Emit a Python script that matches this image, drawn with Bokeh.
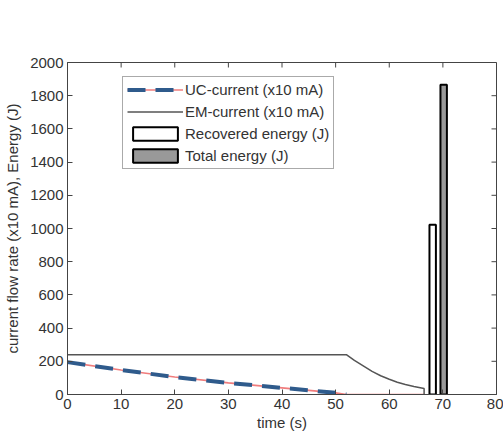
import math
from bokeh.plotting import figure
from bokeh.models import Legend, LegendItem, FixedTicker
from bokeh.embed import file_html
from bokeh.resources import INLINE

# ---- data ----
uc_time = [0, 10, 20, 30, 40, 50, 52, 66.5]
uc_current = [195, 148, 105, 70, 40, 10, 0, 0]
uc_dash_points = 7  # blue dashes stop where the UC current reaches zero

em_time = [0, 52, 53.5, 55.3, 56.8, 58.4, 60.0, 61.5, 63.0, 64.6, 66.5, 66.5]
em_current = [240, 240, 205, 169, 139, 113, 92, 74, 60, 48, 36, 0]

recovered_time = [68.1]
recovered_energy = [1022]
total_time = [70.15]
total_energy = [1866]

x_ticks = [0, 10, 20, 30, 40, 50, 60, 70, 80]
y_ticks = [0, 200, 400, 600, 800, 1000, 1200, 1400, 1600, 1800, 2000]
x_max = 80
y_max = 2000

FONT = "Liberation Sans"
AXIS_COLOR = "#444444"

p = figure(width=503, height=437, x_range=(0, x_max), y_range=(0, y_max),
           output_backend="svg", toolbar_location=None,
           min_border_left=67, min_border_right=7, min_border_top=62, min_border_bottom=43)
p.background_fill_color = "white"
p.border_fill_color = "white"
p.outline_line_color = AXIS_COLOR
p.outline_line_width = 1
p.xgrid.grid_line_color = None
p.ygrid.grid_line_color = None

p.xaxis.ticker = FixedTicker(ticks=x_ticks)
p.yaxis.ticker = FixedTicker(ticks=y_ticks)
for ax in (p.xaxis[0], p.yaxis[0]):
    ax.major_tick_in = 5
    ax.major_tick_out = 0
    ax.minor_tick_line_color = None
    ax.axis_line_color = AXIS_COLOR
    ax.major_tick_line_color = AXIS_COLOR
    ax.major_label_text_font = FONT
    ax.major_label_text_font_size = "15px"
    ax.major_label_text_color = "#333333"
    ax.axis_label_text_font = FONT
    ax.axis_label_text_font_size = "15px"
    ax.axis_label_text_font_style = "normal"
    ax.axis_label_text_color = "#333333"
    ax.major_label_standoff = 4
p.xaxis.axis_label = "time (s)"
p.yaxis.axis_label = "current flow rate (x10 mA), Energy (J)"
p.xaxis.axis_label_standoff = 2
p.yaxis.axis_label_standoff = 6

# inward ticks on the top and right edges of the box (MATLAB style)
p.ray(x=x_ticks, y=[y_max] * len(x_ticks), length=5, length_units="screen",
      angle=-math.pi / 2, line_color=AXIS_COLOR, line_width=1)
p.ray(x=[x_max] * len(y_ticks), y=y_ticks, length=5, length_units="screen",
      angle=math.pi, line_color=AXIS_COLOR, line_width=1)

# ---- glyphs ----
r_uc_red = p.line(uc_time, uc_current, line_color="#f07c7c", line_width=1.6)
r_uc_blue = p.line(uc_time[:uc_dash_points], uc_current[:uc_dash_points],
                   line_color="#2f5b8c", line_width=4, line_dash="18 10")
r_em = p.line(em_time, em_current, line_color="#555555", line_width=1.5)
r_rec = p.vbar(x=recovered_time, top=recovered_energy, width=1.2, bottom=0,
               fill_color="white", line_color="black", line_width=2)
r_tot = p.vbar(x=total_time, top=total_energy, width=1.2, bottom=0,
               fill_color="#999999", line_color="black", line_width=2)

legend = Legend(items=[
    LegendItem(label="UC-current (x10 mA)", renderers=[r_uc_red, r_uc_blue]),
    LegendItem(label="EM-current (x10 mA)", renderers=[r_em]),
    LegendItem(label="Recovered energy (J)", renderers=[r_rec]),
    LegendItem(label="Total energy (J)", renderers=[r_tot]),
], location=(55, 225))
legend.label_text_font = FONT
legend.label_text_font_size = "15px"
legend.label_text_color = "#333333"
legend.glyph_width = 56
legend.glyph_height = 17
legend.label_height = 17
legend.spacing = 5
legend.padding = 4
legend.margin = 0
legend.label_standoff = 2
legend.border_line_color = "#555555"
legend.border_line_width = 1
legend.background_fill_color = "white"
p.add_layout(legend, "center")

open("out.html", "w").write(file_html(p, INLINE))
